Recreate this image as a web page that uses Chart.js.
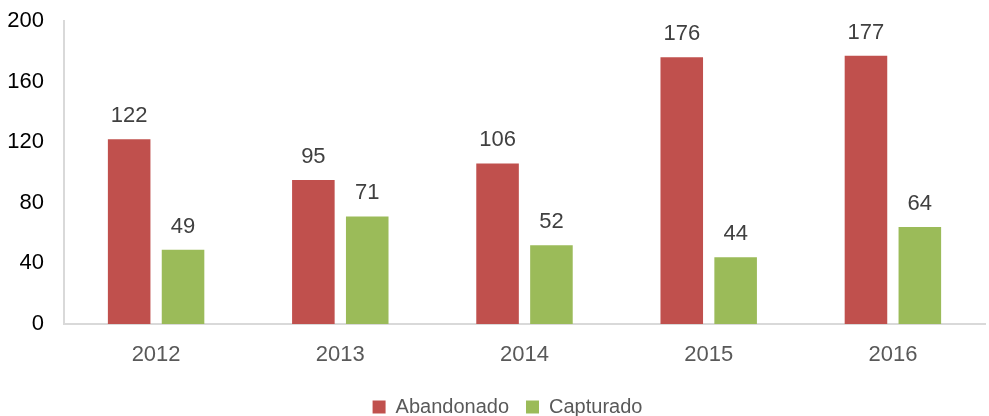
<!DOCTYPE html>
<html>
<head>
<meta charset="utf-8">
<script src="https://cdn.jsdelivr.net/npm/chart.js@4/dist/chart.umd.min.js"></script>
<style>
  html, body { margin: 0; padding: 0; background: #fff; }
  #wrap { width: 989px; height: 416px; }
</style>
</head>
<body>
<div id="wrap"><canvas id="grafico"></canvas></div>
<script>
// dados do gráfico
const anos = ["2012", "2013", "2014", "2015", "2016"];
const abandonado = [122, 95, 106, 176, 177];
const capturado = [49, 71, 52, 44, 64];
const ticksY = [0, 40, 80, 120, 160, 200];

const FONTE = "'Liberation Sans Narrow', 'Arial Narrow', 'Liberation Sans', Arial, sans-serif";

// rótulos de valor acima das barras
const rotulos = {
  id: "rotulos",
  afterLayout(chart) {
    // legenda um pouco deslocada para a direita, como no original
    chart.legend.left += 15;
    chart.legend.right += 15;
  },
  afterDatasetsDraw(chart) {
    const ctx = chart.ctx;
    ctx.save();
    ctx.font = "22px " + FONTE;
    ctx.fillStyle = "#404040";
    ctx.textAlign = "center";
    ctx.textBaseline = "alphabetic";
    chart.data.datasets.forEach((ds, i) => {
      chart.getDatasetMeta(i).data.forEach((bar, j) => {
        ctx.fillText(ds.data[j], bar.x, bar.y - 17);
      });
    });
    ctx.restore();
  },
};

new Chart(document.getElementById("grafico"), {
  type: "bar",
  data: {
    labels: anos,
    datasets: [
      {
        label: "Abandonado",
        data: abandonado,
        backgroundColor: "#C0504D",
        categoryPercentage: 0.585,
        barPercentage: 0.79,
      },
      {
        label: "Capturado",
        data: capturado,
        backgroundColor: "#9BBB59",
        categoryPercentage: 0.585,
        barPercentage: 0.79,
      },
    ],
  },
  options: {
    responsive: true,
    maintainAspectRatio: false,
    animation: false,
    layout: { padding: { top: 21, right: 4, left: 0, bottom: -11 } },
    plugins: {
      tooltip: { enabled: false },
      legend: {
        position: "bottom",
        labels: {
          font: { family: FONTE, size: 20 },
          color: "#595959",
          boxWidth: 13,
          boxHeight: 13,
          padding: 17,
        },
      },
    },
    scales: {
      x: {
        grid: { display: false, drawTicks: false },
        border: { display: true, color: "#d9d9d9", width: 2 },
        ticks: {
          font: { family: FONTE, size: 22 },
          color: "#595959",
          padding: 18,
        },
        afterFit(scale) { scale.height = 56; },
      },
      y: {
        min: 0,
        max: 200,
        afterBuildTicks(scale) {
          scale.ticks = ticksY.map((v) => ({ value: v }));
        },
        grid: { display: false, drawTicks: false },
        border: { display: true, color: "#d9d9d9", width: 2 },
        ticks: {
          font: { family: FONTE, size: 22 },
          color: "#000000",
          padding: 20,
        },
        afterFit(scale) { scale.width = 64; scale.paddingTop = 0; scale.paddingBottom = 0; },
      },
    },
  },
  plugins: [rotulos],
});
</script>
</body>
</html>
